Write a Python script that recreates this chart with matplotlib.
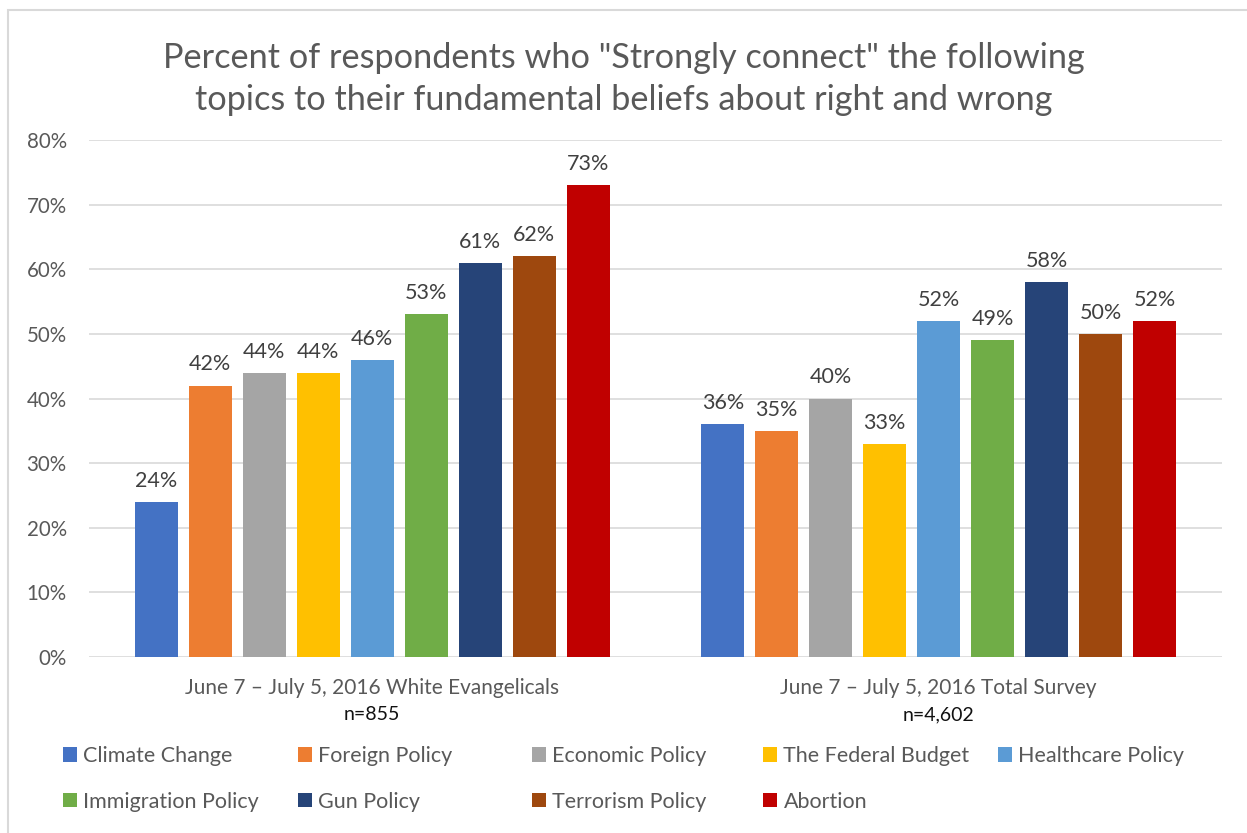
import numpy as np
import matplotlib.pyplot as plt
from matplotlib.patches import Rectangle
from matplotlib.ticker import PercentFormatter

plt.rcParams['font.family'] = ['Lato', 'DejaVu Sans']

groups = ['June 7 \u2013 July 5, 2016 White Evangelicals', 'June 7 \u2013 July 5, 2016 Total Survey']
sample_sizes = ['n=855', 'n=4,602']
topics = ['Climate Change', 'Foreign Policy', 'Economic Policy', 'The Federal Budget',
          'Healthcare Policy', 'Immigration Policy', 'Gun Policy', 'Terrorism Policy', 'Abortion']
evangelicals = [24, 42, 44, 44, 46, 53, 61, 62, 73]
total_survey = [36, 35, 40, 33, 52, 49, 58, 50, 52]
colors = ['#4472C4', '#ED7D31', '#A5A5A5', '#FFC000', '#5B9BD5',
          '#70AD47', '#264478', '#9E480E', '#C00000']

grey = '#595959'
W, H = 1247, 833

fig = plt.figure(figsize=(W / 100, H / 100), dpi=100)
ax = fig.add_axes([89 / W, 1 - 657 / H, (1222 - 89) / W, (657 - 140) / H])

values = np.array([evangelicals, total_survey]) / 100
x = np.arange(len(groups))
stride = 54 / 566.5
width = 43 / 566.5
handles = []
for i, (topic, color) in enumerate(zip(topics, colors)):
    pos = x + (i - (len(topics) - 1) / 2) * stride
    bars = ax.bar(pos, values[:, i], width, color=color, label=topic, zorder=3)
    ax.bar_label(bars, labels=[f'{v:.0%}' for v in values[:, i]], padding=8,
                 fontsize=15.5, color='#404040')
    handles.append(bars)

ax.set_xlim(-0.5, 1.5)
ax.set_ylim(0, 0.8)
ax.set_yticks(np.arange(0, 0.81, 0.1))
ax.yaxis.set_major_formatter(PercentFormatter(1.0, decimals=0))
ax.grid(axis='y', color='#D9D9D9', linewidth=1.2, zorder=0)
for s in ax.spines.values():
    s.set_visible(False)
ax.tick_params(axis='y', length=0, labelsize=14.8, labelcolor=grey, pad=16)
ax.tick_params(axis='x', length=0, labelsize=15, labelcolor=grey, pad=15)
ax.set_xticks(x)
ax.set_xticklabels(groups)
for xi, n in zip(x, sample_sizes):
    ax.annotate(n, (xi, 0), xytext=(0, -41.5), textcoords='offset points',
                ha='center', va='center', fontsize=14, color='#111111',
                annotation_clip=False)

fig.suptitle('Percent of respondents who "Strongly connect" the following\n'
             'topics to their fundamental beliefs about right and wrong',
             y=1 - 79 / H, va='center', fontsize=24.7, color=grey, linespacing=1.38)

# legend laid out row by row in evenly spaced columns
col_left = [63, 298, 532, 763, 998]
for c, left in enumerate(col_left):
    idx = [i for i in (c, c + 5) if i < len(topics)]
    fig.legend([handles[i] for i in idx], [topics[i] for i in idx],
               loc='upper left', bbox_to_anchor=(left / W, 1 - 746 / H),
               frameon=False, borderpad=0, borderaxespad=0,
               fontsize=15.5, labelcolor=grey, handlelength=0.65, handleheight=0.65,
               handletextpad=0.3, labelspacing=1.2)

fig.add_artist(Rectangle((8 / W, -0.01), 1.02, 1 - 10 / H + 0.01,
                         transform=fig.transFigure, fill=False,
                         edgecolor='#D9D9D9', linewidth=1.5))

fig.savefig('out.png', dpi=100, facecolor='white')
